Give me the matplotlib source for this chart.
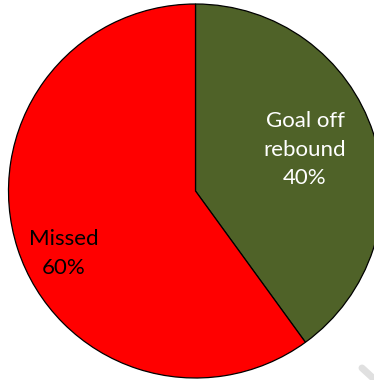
import matplotlib.pyplot as plt

# shot outcome shares
labels = ["Goal off\nrebound", "Missed"]
shares = [40, 60]
colors = ["#4F6228", "#FF0000"]
text_colors = ["white", "black"]

fig = plt.figure(figsize=(3.74, 3.80), dpi=100)
ax = fig.add_axes([0, 0, 1, 1])

wedges, _ = ax.pie(shares, colors=colors, startangle=90, counterclock=False,
                   center=(195.5, 189), radius=187, frame=True,
                   wedgeprops=dict(edgecolor="black", linewidth=0.9))
ax.set_xlim(0, 374)
ax.set_ylim(0, 380)
ax.axis("off")

# label positions inside each slice
label_pos = [(305, 230.5), (64, 126.5)]
for lab, val, (x, y), c in zip(labels, shares, label_pos, text_colors):
    ax.text(x, y, f"{lab}\n{val}%", ha="center", va="center", color=c,
            fontsize=16, family="Lato", linespacing=1.55)

# faint watermark stroke in the corner
ax.plot([362, 374], [12, 1], color="#e0e0e0", linewidth=5, solid_capstyle="round")

fig.savefig("out.png", dpi=100)
